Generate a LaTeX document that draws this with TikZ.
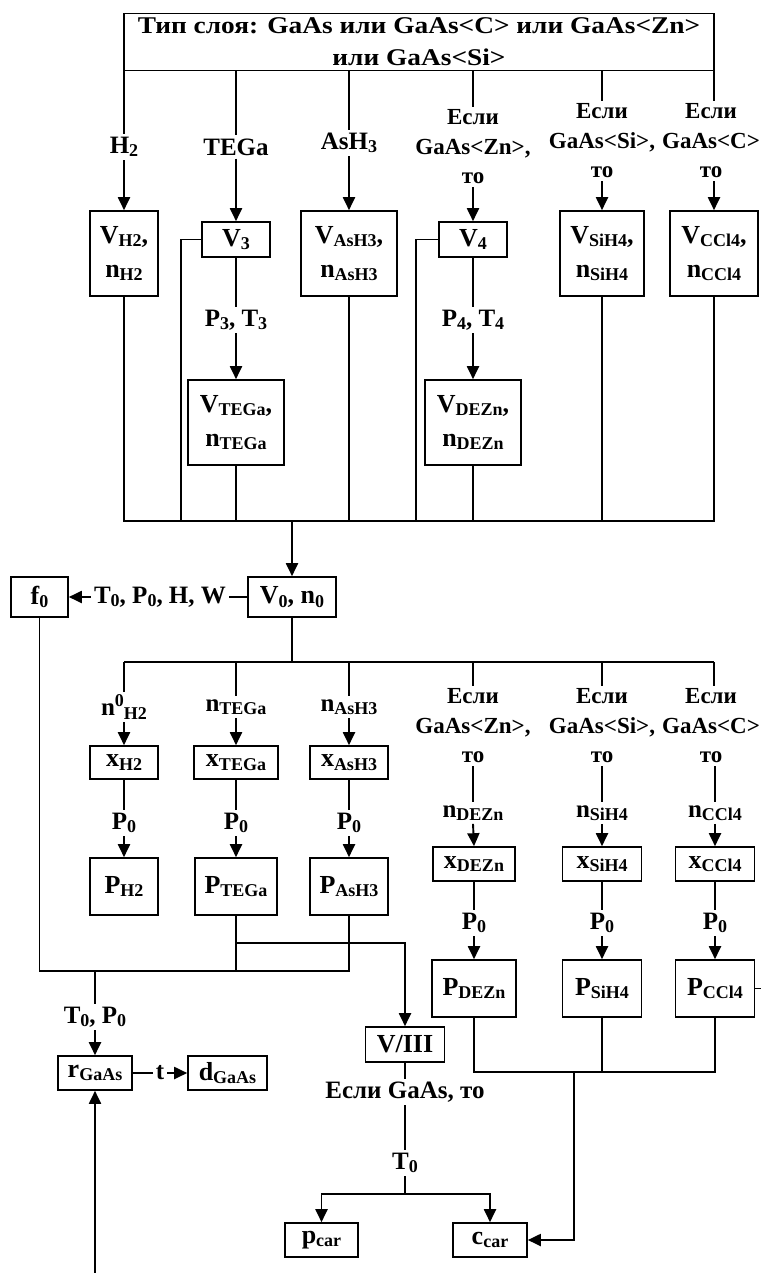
\documentclass[tikz,border=0pt]{standalone}
\usepackage{fontspec}
\setmainfont{Liberation Serif}
\newfontfamily\ttlfont{Liberation Serif}[FakeStretch=1.14]
\usetikzlibrary{arrows.meta,calc}
\newcommand{\sbs}[1]{\raisebox{-3.5pt}{\fontsize{18}{18}\selectfont #1}}
\newcommand{\sps}[1]{\raisebox{9pt}{\fontsize{18}{18}\selectfont #1}}
\begin{document}
\begin{tikzpicture}[x=1pt,y=-1pt,
  every node/.style={font=\fontsize{25}{33}\selectfont\bfseries, inner sep=0pt},
  bx/.style 2 args={draw, line width=1.6pt, minimum width=#1, minimum height=#2, align=center,
     font=\fontsize{26}{34}\selectfont\bfseries},
  lab/.style={align=center, inner sep=3pt},
  iflab/.style={lab, font=\fontsize{23}{29.5}\selectfont\bfseries},
  wire/.style={line width=1.9pt},
  arr/.style={wire, -{Triangle[length=13pt,width=12pt]}}]
\useasboundingbox (0,0) rectangle (761,1273);
\fill[white] (0,0) rectangle (761,1273);

% title
\node[draw, line width=1.6pt, minimum width=590, minimum height=57, align=center,
      font=\ttlfont\fontsize{24}{32}\selectfont\bfseries] (title) at (419,42)
  {Тип слоя: GaAs или GaAs<C> или GaAs<Zn>\\или GaAs<Si>};

% top labels
\node[lab] (lh2) at (124,147) {H\sbs{2}};
\node[lab] (lteg) at (236,147) {TEGa};
\node[lab] (lash) at (349,143) {AsH\sbs{3}};
\node[iflab] (lzn) at (473,147) {Если\\GaAs<Zn>,\\то};
\node[iflab] (lsi) at (602,141) {Если\\GaAs<Si>,\\то};
\node[iflab] (lcc) at (711,141) {Если\\GaAs<C>\\то};

% first row boxes
\node[bx={68}{85}] (vh2) at (124,253.5) {V\sbs{H2},\\n\sbs{H2}};
\node[bx={68}{35}] (v3) at (236,239.5) {V\sbs{3}};
\node[bx={96}{85}] (vash3) at (349,253.5) {V\sbs{AsH3},\\n\sbs{AsH3}};
\node[bx={68}{35}] (v4) at (473,239.5) {V\sbs{4}};
\node[bx={84}{85}] (vsih4) at (602,253.5) {V\sbs{SiH4},\\n\sbs{SiH4}};
\node[bx={88}{85}] (vccl4) at (714,253.5) {V\sbs{CCl4},\\n\sbs{CCl4}};

\node[lab] (lp3) at (236,320) {P\sbs{3}, T\sbs{3}};
\node[lab] (lp4) at (473,320) {P\sbs{4}, T\sbs{4}};
\node[bx={96}{85}] (vtega) at (236,422.5) {V\sbs{TEGa},\\n\sbs{TEGa}};
\node[bx={96}{85}] (vdezn) at (473,422.5) {V\sbs{DEZn},\\n\sbs{DEZn}};

% top connectors
\foreach \l/\b in {lh2/vh2,lteg/v3,lash/vash3,lzn/v4,lsi/vsih4}{
  \draw[wire] (title.south -| \l) -- (\l.north);
  \draw[arr] (\l.south) -- (\b.north);
}
\draw[wire] (title.south -| vccl4) -- (vccl4 |- lcc.north);
\draw[arr] (vccl4 |- lcc.south) -- (vccl4.north);
\draw[wire] (v3.south) -- (lp3.north);
\draw[arr] (lp3.south) -- (vtega.north);
\draw[wire] (v4.south) -- (lp4.north);
\draw[arr] (lp4.south) -- (vdezn.north);

% bus 1
\coordinate (b1) at (292,521);
\coordinate (k3) at (181,521);
\coordinate (k4) at (416,521);
\draw[wire] (vh2.south) -- (vh2.south |- b1) -- (vccl4.south |- b1) -- (vccl4.south);
\foreach \b in {vtega,vash3,vdezn,vsih4}{\draw[wire] (\b.south) -- (\b.south |- b1);}
\draw[wire] (v3.west) -| (k3);
\draw[wire] (v4.west) -| (k4);

\node[bx={88}{40}] (v0) at (292,597) {V\sbs{0}, n\sbs{0}};
\node[bx={57}{40}] (f0) at (39.5,597) {f\sbs{0}};
\node[lab] (ltw) at (160,597) {T\sbs{0}, P\sbs{0}, H, W};
\draw[arr] (b1) -- (v0.north);
\draw[wire] (v0.west) -- (ltw.east);
\draw[arr] (ltw.west) -- (f0.east);

% bus 2
\coordinate (b2) at (292,662);
\draw[wire] (v0.south) -- (b2);
\node[lab] (ln0) at (124,707) {n\sps{0}\sbs{H2}};
\node[lab] (lnteg) at (236,707) {n\sbs{TEGa}};
\node[lab] (lnash) at (349,707) {n\sbs{AsH3}};
\node[iflab] (lzn2) at (473,726) {Если\\GaAs<Zn>,\\то};
\node[iflab] (lsi2) at (602,726) {Если\\GaAs<Si>,\\то};
\node[iflab] (lcc2) at (711,726) {Если\\GaAs<C>\\то};
\draw[wire] (ln0.north |- b2) -- (vccl4.south |- b2);
\foreach \l in {ln0,lnteg,lnash,lzn2,lsi2}{\draw[wire] (\l.north |- b2) -- (\l.north);}
\draw[wire] (vccl4.south |- b2) -- (vccl4.south |- lcc2.north);

\node[bx={68}{33}] (xh2) at (124,762.5) {x\sbs{H2}};
\node[bx={84}{33}] (xtega) at (236,762.5) {x\sbs{TEGa}};
\node[bx={78}{33}] (xash3) at (349,762.5) {x\sbs{AsH3}};
\node[lab] (lp0a) at (124,823) {P\sbs{0}};
\node[lab] (lp0b) at (236,823) {P\sbs{0}};
\node[lab] (lp0c) at (349,823) {P\sbs{0}};
\node[bx={68}{57}] (ph2) at (124,886.5) {P\sbs{H2}};
\node[bx={82}{57}] (ptega) at (236,886.5) {P\sbs{TEGa}};
\node[bx={78}{57}] (pash3) at (349,886.5) {P\sbs{AsH3}};
\foreach \l/\x/\p/\q in {ln0/xh2/lp0a/ph2,lnteg/xtega/lp0b/ptega,lnash/xash3/lp0c/pash3}{
  \draw[arr] (\l.south) -- (\x.north);
  \draw[wire] (\x.south) -- (\p.north);
  \draw[arr] (\p.south) -- (\q.north);
}

\node[lab] (lndezn) at (473,813) {n\sbs{DEZn}};
\node[lab] (lnsih4) at (602,813) {n\sbs{SiH4}};
\node[lab] (lnccl4) at (715,813) {n\sbs{CCl4}};
\node[bx={82}{34}] (xdezn) at (474,864) {x\sbs{DEZn}};
\node[bx={79}{34}] (xsih4) at (602,864) {x\sbs{SiH4}};
\node[bx={79}{34}] (xccl4) at (715,864) {x\sbs{CCl4}};
\node[lab] (lp0d) at (474,923) {P\sbs{0}};
\node[lab] (lp0e) at (602,923) {P\sbs{0}};
\node[lab] (lp0f) at (715,923) {P\sbs{0}};
\node[bx={84}{57}] (pdezn) at (474,988.5) {P\sbs{DEZn}};
\node[bx={79}{57}] (psih4) at (602,988.5) {P\sbs{SiH4}};
\node[bx={79}{57}] (pccl4) at (715,988.5) {P\sbs{CCl4}};
\draw[wire] (lzn2.south) -- (lndezn.north);
\draw[wire] (lsi2.south) -- (lnsih4.north);
\draw[wire] (lnccl4 |- lcc2.south) -- (lnccl4.north);
\foreach \l/\x/\p/\q in {lndezn/xdezn/lp0d/pdezn,lnsih4/xsih4/lp0e/psih4,lnccl4/xccl4/lp0f/pccl4}{
  \draw[arr] (\l.south) -- (\x.north);
  \draw[wire] (\x.south) -- (\p.north);
  \draw[arr] (\p.south) -- (\q.north);
}

% bottom left
\node[bx={79}{35}] (v3r) at (405,1044.5) {V/III};
\node[lab] (ltp) at (95,1017) {T\sbs{0}, P\sbs{0}};
\node[bx={74}{34}] (rgaas) at (95,1073) {r\sbs{GaAs}};
\node[lab] (lt) at (160,1073) {t};
\node[bx={79}{34}] (dgaas) at (227.5,1073) {d\sbs{GaAs}};
\coordinate (b3) at (236,971);
\coordinate (j) at (236,943);
\coordinate (bot) at (95,1273);
\draw[wire] (f0.south) -- (f0.south |- b3) -- (pash3.south |- b3) -- (pash3.south);
\draw[wire] (ptega.south) -- (b3);
\draw[arr] (j) -| (v3r.north);
\draw[wire] (rgaas.north |- b3) -- (ltp.north);
\draw[arr] (ltp.south) -- (rgaas.north);
\draw[wire] (rgaas.east) -- (lt.west);
\draw[arr] (lt.east) -- (dgaas.west);
\draw[arr] (bot) -- (rgaas.south);

% bottom right
\node[lab] (lif) at (405,1092) {Если GaAs, то};
\node[lab] (lt0) at (405,1163) {T\sbs{0}};
\node[bx={73}{34}] (pcar) at (321.5,1240) {p\sbs{car}};
\node[bx={74}{34}] (ccar) at (490,1240) {c\sbs{car}};
\coordinate (br) at (405,1194);
\draw[wire] (v3r.south) -- (lif.north);
\draw[wire] (lif.south) -- (lt0.north);
\draw[wire] (lt0.south) -- (br);
\draw[arr] (br) -| (pcar.north);
\draw[arr] (br) -| (ccar.north);
\coordinate (b4) at (574,1072);
\coordinate (edge) at (761,988.5);
\draw[wire] (pdezn.south) -- (pdezn.south |- b4) -- (pccl4.south |- b4) -- (pccl4.south);
\draw[wire] (psih4.south) -- (psih4.south |- b4);
\draw[arr] (b4) |- (ccar.east);
\draw[wire] (pccl4.east) -- (edge);
\end{tikzpicture}
\end{document}
